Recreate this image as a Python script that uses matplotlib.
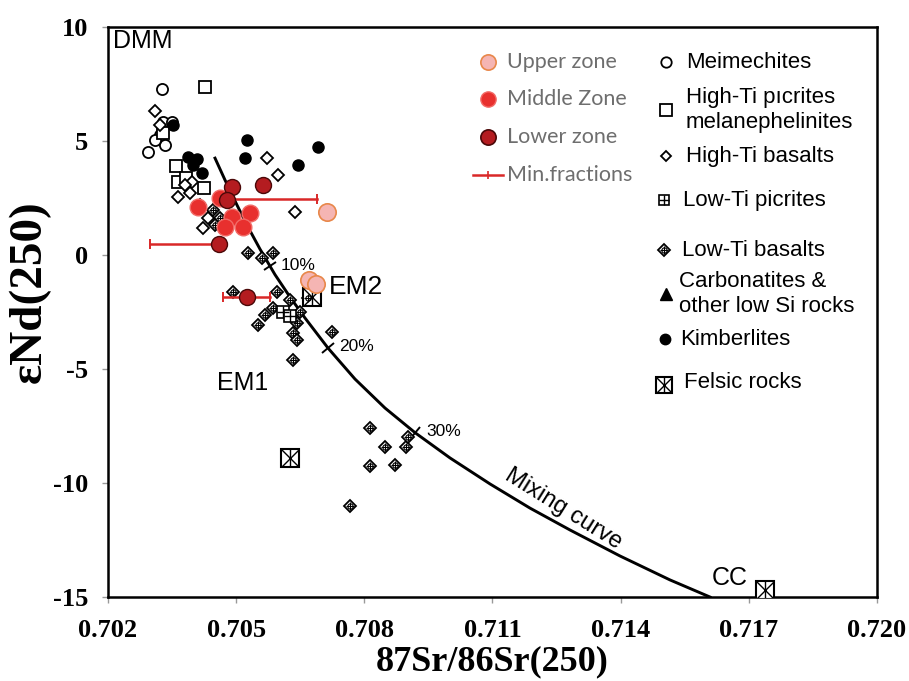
import matplotlib
matplotlib.use("Agg")
import matplotlib.pyplot as plt
from matplotlib.markers import MarkerStyle
from matplotlib.transforms import Affine2D

# ---------------- data ----------------
meim_sr = [0.70326, 0.70294, 0.70329, 0.70350, 0.70322, 0.70333, 0.70310]
meim_nd = [7.28, 4.52, 5.83, 5.83, 5.26, 4.82, 5.04]

hitipic_sr = [0.70427, 0.70329, 0.70359, 0.70364, 0.70425, 0.70383]
hitipic_nd = [7.37, 5.35, 3.90, 3.20, 2.94, 3.38]

hitibas_sr = [0.70310, 0.70322, 0.70364, 0.70392, 0.70397, 0.70380, 0.70422,
              0.70434, 0.70572, 0.70598, 0.70638, 0.70415]
hitibas_nd = [6.32, 5.70, 2.54, 2.72, 3.20, 3.07, 1.18, 1.62, 4.25, 3.51, 1.89, 2.19]

kimb_sr = [0.70525, 0.70521, 0.70645, 0.70692, 0.70420, 0.70387, 0.70408, 0.70352, 0.70399]
kimb_nd = [5.04, 4.25, 3.95, 4.74, 3.60, 4.30, 4.21, 5.70, 3.95]

lotibas_sr = [0.70528, 0.70560, 0.70586, 0.70493, 0.70596, 0.70626, 0.70649, 0.70668,
              0.70586, 0.70568, 0.70551, 0.70642, 0.70633, 0.70642, 0.70633, 0.70724,
              0.70813, 0.70848, 0.70813, 0.70872, 0.70767, 0.70898, 0.70902,
              0.70446, 0.70462, 0.70450]
lotibas_nd = [0.09, -0.13, 0.09, -1.62, -1.62, -1.97, -2.50, -1.89,
              -2.32, -2.63, -3.07, -2.98, -3.42, -3.73, -4.61, -3.38,
              -7.59, -8.42, -9.25, -9.21, -11.01, -8.42, -7.98,
              1.97, 1.62, 1.32]

lotipic_sr = [0.70610, 0.70626]
lotipic_nd = [-2.50, -2.68]

felsic_sr = [0.70678, 0.70626, 0.71738]
felsic_nd = [-1.84, -8.90, -14.69]

upper_sr = [0.70713, 0.70670, 0.70687]
upper_nd = [1.89, -1.10, -1.27]

middle_sr = [0.70411, 0.70462, 0.70490, 0.70532, 0.70474, 0.70516]
middle_nd = [2.11, 2.50, 1.67, 1.84, 1.23, 1.23]

lower_sr = [0.70490, 0.70563, 0.70479, 0.70460, 0.70525]
lower_nd = [2.98, 3.07, 2.41, 0.48, -1.84]

minfr_sr_lo = [0.70479, 0.70298, 0.70469]
minfr_sr_hi = [0.70689, 0.70460, 0.70579]
minfr_nd = [2.45, 0.48, -1.84]

mix_sr = [0.704505, 0.704739, 0.705020, 0.705277, 0.705558, 0.705909, 0.706260,
          0.706611, 0.707150, 0.707782, 0.708484, 0.709186, 0.710006, 0.710942,
          0.711878, 0.712815, 0.713985, 0.715155, 0.716092]
mix_nd = [4.25, 3.29, 2.19, 1.23, 0.26, -0.86, -1.84, -2.76, -4.08, -5.44, -6.71,
          -7.79, -8.90, -10.04, -11.10, -12.06, -13.20, -14.25, -15.0]

pct_sr = [0.70579, 0.70715, 0.70919]
pct_nd = [-0.50, -4.08, -7.81]
pct_labels = ["10%", "20%", "30%"]

x_ticks = [0.702, 0.705, 0.708, 0.711, 0.714, 0.717, 0.720]
y_ticks = [10, 5, 0, -5, -10, -15]

left_legend_labels = ["Upper zone", "Middle Zone", "Lower zone", "Min.fractions"]
right_legend_labels = ["Meimechites", "High-Ti p\u0131crites\nmelanephelinites",
                       "High-Ti basalts", "Low-Ti picrites", "Low-Ti basalts",
                       "Carbonatites &\nother low Si rocks", "Kimberlites", "Felsic rocks"]

# ---------------- styles ----------------
UP_FC, UP_EC = "#f5b5b3", "#e8874a"
MID_FC, MID_EC = "#e8302e", "#f26a66"
LOW_FC, LOW_EC = "#b41c20", "#4a0808"
MF_C = "#d92828"
SANS = ["Liberation Sans", "DejaVu Sans"]
SERIF = ["Liberation Serif", "DejaVu Serif"]

fig = plt.figure(figsize=(9.09, 6.81), dpi=100)
ax = fig.add_axes([0.1188, 0.1233, 0.846, 0.837])
ax.set_xlim(0.702, 0.720)
ax.set_ylim(-15, 10)


def open_marker(xs, ys, marker, ms, mew=1.3, z=3, **kw):
    ax.plot(xs, ys, linestyle="none", marker=marker, ms=ms, mfc="white",
            mec="black", mew=mew, zorder=z, **kw)


def lotibas(xs, ys, ms=6.3, z=3, **kw):
    open_marker(xs, ys, "D", ms, mew=1.3, z=z, **kw)
    ax.plot(xs, ys, linestyle="none", marker="o", ms=ms * 0.6, mfc="none",
            mec="black", mew=0.8, zorder=z + 0.1, **kw)
    ax.plot(xs, ys, linestyle="none", marker="+", ms=ms * 0.9, mec="black",
            mew=0.8, zorder=z + 0.2, **kw)


def lotipic(xs, ys, ms=8.5, z=3, **kw):
    open_marker(xs, ys, "s", ms, mew=1.2, z=z, **kw)
    ax.plot(xs, ys, linestyle="none", marker="+", ms=ms, mec="black",
            mew=1.0, zorder=z + 0.1, **kw)


def felsic(xs, ys, ms=13, z=3, **kw):
    open_marker(xs, ys, "s", ms, mew=1.5, z=z, **kw)
    ax.plot(xs, ys, linestyle="none", marker="x", ms=ms, mec="black",
            mew=1.0, zorder=z + 0.1, **kw)
    ax.plot(xs, ys, linestyle="none", marker="|", ms=ms, mec="black",
            mew=1.0, zorder=z + 0.1, **kw)


# mixing curve
ax.plot(mix_sr, mix_nd, color="black", lw=2.1, zorder=2)
pct_angles = [35, 40, 50]
for sx, sy, lab, ang in zip(pct_sr, pct_nd, pct_labels, pct_angles):
    ax.plot([sx], [sy], linestyle="none",
            marker=MarkerStyle("_", transform=Affine2D().rotate_deg(ang)),
            ms=11, mec="black", mew=1.4, zorder=2)
    ax.annotate(lab, (sx, sy), xytext=(8, 1), textcoords="offset points",
                ha="left", va="center", fontsize=12.5, family=SANS, zorder=4)

ax.text(0.712650, -11.15, "Mixing curve", rotation=-32, rotation_mode="anchor",
        ha="center", va="center", fontsize=17, family=SANS)

# data groups
open_marker(meim_sr, meim_nd, "o", 8)
open_marker(hitipic_sr, hitipic_nd, "s", 8)
open_marker(hitibas_sr, hitibas_nd, "D", 5.8)
ax.plot(kimb_sr, kimb_nd, linestyle="none", marker="o", ms=8, color="black", zorder=3)
lotibas(lotibas_sr, lotibas_nd)
lotipic(lotipic_sr, lotipic_nd)
felsic(felsic_sr, felsic_nd)

# mineral fractions
for lo, hi, y in zip(minfr_sr_lo, minfr_sr_hi, minfr_nd):
    ax.plot([lo, hi], [y, y], color=MF_C, lw=1.8, zorder=4)
    ax.plot([lo, hi], [y, y], linestyle="none", marker="|", ms=7, mec=MF_C,
            mew=1.4, zorder=4)

ax.plot(upper_sr, upper_nd, linestyle="none", marker="o", ms=12.5, mfc=UP_FC,
        mec=UP_EC, mew=1.2, zorder=5)
ax.plot(middle_sr, middle_nd, linestyle="none", marker="o", ms=12, mfc=MID_FC,
        mec=MID_EC, mew=1.0, zorder=5)
ax.plot(lower_sr, lower_nd, linestyle="none", marker="o", ms=11.5, mfc=LOW_FC,
        mec=LOW_EC, mew=1.0, zorder=6)

# end-member labels
ax.text(0.70212, 9.4, "DMM", ha="left", va="center", fontsize=18, family=SANS)
ax.text(0.70718, -1.40, "EM2", ha="left", va="center", fontsize=19, family=SANS)
ax.text(0.70455, -5.61, "EM1", ha="left", va="center", fontsize=18, family=SANS)
ax.text(0.71614, -14.17, "CC", ha="left", va="center", fontsize=18, family=SANS)

# ---------------- legend (manual layout) ----------------
T = ax.transAxes
GRAY = "#6e6e6e"
lx_m, lx_t = 0.494, 0.519
ly = [0.9386, 0.8737, 0.8070, 0.7404]
ax.plot([lx_m], [ly[0]], transform=T, marker="o", ms=11, mfc=UP_FC, mec=UP_EC,
        mew=1.2, linestyle="none", clip_on=False)
ax.plot([lx_m], [ly[1]], transform=T, marker="o", ms=11, mfc=MID_FC, mec=MID_EC,
        mew=1.0, linestyle="none", clip_on=False)
ax.plot([lx_m], [ly[2]], transform=T, marker="o", ms=11, mfc=LOW_FC, mec=LOW_EC,
        mew=1.2, linestyle="none", clip_on=False)
ax.plot([0.4746, 0.5137], [ly[3], ly[3]], transform=T, color=MF_C, lw=1.8)
ax.plot([0.494], [ly[3]], transform=T, marker="|", ms=6, mec=MF_C, mew=1.2,
        linestyle="none")
for lab, y in zip(left_legend_labels, ly):
    ax.text(lx_t, y, lab, transform=T, ha="left", va="center", fontsize=15.5,
            color=GRAY, family=["Lato", "DejaVu Sans"])

rx_m = 0.7256
ry = [0.9386, 0.8544, 0.7737, 0.6965, 0.6088, 0.5316, 0.4526, 0.3719]
rty = [0.9386, 0.8544, 0.7737, 0.6965, 0.6088, 0.5316, 0.4526, 0.3755]
rtx = [0.7516, 0.7516, 0.7516, 0.7477, 0.7464, 0.7425, 0.7438, 0.7490]
open_marker([rx_m], [ry[0]], "o", 7.5, transform=T, clip_on=False)
open_marker([rx_m], [ry[1]], "s", 8, transform=T, clip_on=False)
open_marker([rx_m], [ry[2]], "D", 5.5, transform=T, clip_on=False)
lotipic([rx_m - 0.002], [ry[3]], ms=7.5, transform=T, clip_on=False)
lotibas([rx_m - 0.002], [ry[4]], transform=T, clip_on=False)
ax.plot([rx_m], [ry[5]], transform=T, marker="^", ms=8, color="black",
        linestyle="none")
ax.plot([rx_m - 0.001], [ry[6]], transform=T, marker="o", ms=7.5, color="black",
        linestyle="none")
felsic([rx_m - 0.002], [ry[7]], ms=12, transform=T, clip_on=False)
for lab, x, y in zip(right_legend_labels, rtx, rty):
    ax.text(x, y, lab, transform=T, ha="left", va="center", fontsize=16,
            family=SANS, linespacing=1.3)

# ---------------- axes styling ----------------
ax.set_xticks(x_ticks)
ax.set_xticklabels([f"{v:.3f}" for v in x_ticks])
ax.set_yticks(y_ticks)
ax.set_yticklabels([str(v) for v in y_ticks])
ax.tick_params(direction="out", length=4, width=1, color="#999999")
ax.tick_params(axis="x", pad=12)
ax.tick_params(axis="y", pad=10)
for lab in ax.get_xticklabels() + ax.get_yticklabels():
    lab.set_fontfamily(SERIF)
    lab.set_fontweight("bold")
    lab.set_fontsize(19)
for sp in ax.spines.values():
    sp.set_linewidth(1.8)
    sp.set_color("black")

ax.set_xlabel("87Sr/86Sr(250)", fontsize=26, fontweight="bold",
              family=SERIF, labelpad=2)
ax.set_ylabel("\u03b5Nd(250)", fontsize=34, fontweight="bold",
              family=SERIF, va="center")
ax.yaxis.set_label_coords(-0.1025, 0.535)

fig.savefig("out.png", dpi=100)
